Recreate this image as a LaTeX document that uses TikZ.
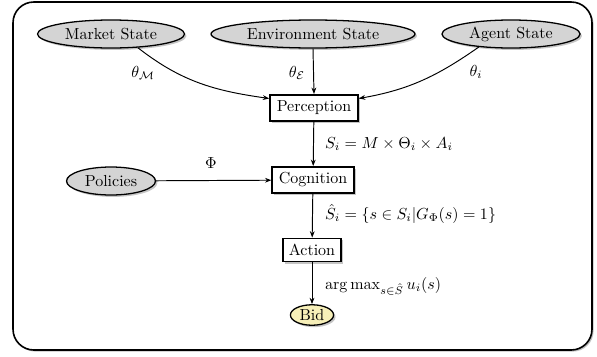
\documentclass[tikz,border=0pt]{standalone}
\usetikzlibrary{shadows,shapes.geometric,arrows.meta}
\definecolor{stategray}{HTML}{D4D4D4}
\definecolor{bidyellow}{HTML}{F6EFB8}
\tikzset{
  statenode/.style={ellipse,draw,line width=0.8pt,fill=stategray,minimum height=17.5pt,inner sep=1pt,
    drop shadow={shadow xshift=1.2pt,shadow yshift=-1.2pt,opacity=0.45}},
  procbox/.style={rectangle,draw,line width=1pt,fill=white,minimum height=16.5pt,inner sep=3.5pt,
    drop shadow={shadow xshift=1.2pt,shadow yshift=-1.2pt,opacity=0.45}},
  conn/.style={-{Stealth[length=4pt,width=3pt]},line width=0.6pt},
  lbl/.style={inner sep=0.5pt}
}
\begin{document}
\begin{tikzpicture}[x=0.625pt,y=-0.625pt]
\useasboundingbox (0,0) rectangle (597,356);
\draw[line width=1pt,rounded corners=13pt,fill=white,
  drop shadow={shadow xshift=1pt,shadow yshift=-1pt,opacity=0.5}] (13,2) rectangle (592,350);
% nodes
\node[statenode,minimum width=91.9pt] (market) at (111,34) {Market State};
\node[statenode,minimum width=127.5pt] (env) at (313,34) {Environment State};
\node[statenode,minimum width=86.3pt] (agent) at (511,34) {Agent State};
\node[procbox,minimum width=55pt] (perc) at (314,108) {Perception};
\node[statenode,minimum width=55.6pt] (pol) at (111,181) {Policies};
\node[procbox,minimum width=51pt] (cog) at (313,180) {Cognition};
\node[procbox,minimum width=34pt,minimum height=14.5pt] (act) at (312,250) {Action};
\node[statenode,fill=bidyellow,minimum width=27pt,minimum height=12pt] (bid) at (312,315) {Bid};
% connectors
\draw[conn] (market.-27) to[out=-38,in=172] (perc.168);
\draw[conn] (env.south) -- (perc.north);
\draw[conn] (agent.-158) to[out=-145,in=10] (perc.12);
\draw[conn] (perc) -- (cog);
\draw[conn] (pol) -- (cog);
\draw[conn] (cog) -- (act);
\draw[conn] (act) -- (bid);
% labels
\node[lbl] (lm) at (143,73) {$\theta_{\mathcal{M}}$};
\node[lbl] (le) at (297,73) {$\theta_{\mathcal{E}}$};
\node[lbl] (li) at (476,72) {$\theta_i$};
\node[lbl] (lphi) at (211,163) {$\Phi$};
\node[lbl,anchor=west] (ls) at (324,144) {$S_i = M \times \Theta_i \times A_i$};
\node[lbl,anchor=west] (lsh) at (324,214) {$\hat{S}_i = \{s \in S_i | G_\Phi(s) = 1\}$};
\node[lbl,anchor=west] (lam) at (324,286) {$\arg\max_{s\in\hat{S}} u_i(s)$};
\end{tikzpicture}
\end{document}
